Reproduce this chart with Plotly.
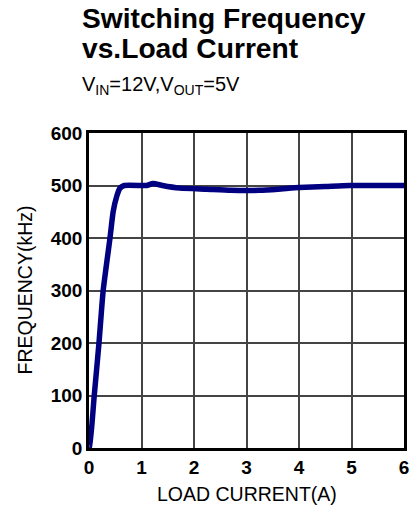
import plotly.graph_objects as go

load_current = [0.0, 0.01, 0.10, 0.19, 0.27, 0.40, 0.46, 0.53, 0.59, 0.67, 1.00, 1.10, 1.22, 1.40, 1.73, 2.24, 2.70, 3.25, 3.60, 4.00, 4.50, 4.96, 6.00]
frequency = [0, 0, 100, 200, 300, 400, 450, 480, 495, 500, 500, 500, 504, 500, 495, 493, 491, 491, 493, 496, 498, 500, 500]

x_ticks = [0, 1, 2, 3, 4, 5, 6]
y_ticks = [0, 100, 200, 300, 400, 500, 600]

title_line1 = "Switching Frequency"
title_line2 = "vs.Load Current"
subtitle = "V<sub>IN</sub>=12V,V<sub>OUT</sub>=5V"
x_title = "LOAD CURRENT(A)"
y_title = "FREQUENCY(kHz)"

font = "Liberation Sans, Arial, sans-serif"

fig = go.Figure()
fig.add_trace(go.Scatter(
    x=load_current, y=frequency, mode="lines",
    line=dict(color="#000080", width=5.5, shape="spline", smoothing=0.5),
    showlegend=False, hoverinfo="skip",
))

fig.update_layout(
    width=417, height=506,
    margin=dict(l=89, r=8, t=133, b=58),
    paper_bgcolor="white", plot_bgcolor="white",
    font=dict(family=font, color="black"),
    xaxis=dict(
        range=[0, 6], tickvals=x_ticks, ticktext=["<b>%d</b>" % v for v in x_ticks],
        showgrid=True, gridcolor="#444444", gridwidth=1.5,
        showline=True, linecolor="black", linewidth=2.5, mirror=True,
        zeroline=False, ticks="",
        tickfont=dict(size=19, family=font),
        fixedrange=True,
    ),
    yaxis=dict(
        range=[0, 600], tickvals=y_ticks, ticktext=["<b>%d</b>" % v for v in y_ticks],
        showgrid=True, gridcolor="#444444", gridwidth=1.5,
        showline=True, linecolor="black", linewidth=2.5, mirror=True,
        zeroline=False, ticks="",
        tickfont=dict(size=19, family=font),
        fixedrange=True,
    ),
    annotations=[
        dict(text="<b>" + title_line1 + "</b>", xref="paper", yref="paper",
             x=-0.0285, y=1.0, xanchor="left", yanchor="bottom",
             yshift=97, showarrow=False,
             font=dict(size=28.2, family=font, color="black")),
        dict(text="<b>" + title_line2 + "</b>", xref="paper", yref="paper",
             x=-0.0285, y=1.0, xanchor="left", yanchor="bottom",
             yshift=67, showarrow=False,
             font=dict(size=28.2, family=font, color="black")),
        dict(text=subtitle, xref="paper", yref="paper",
             x=-0.0285, y=1.0, xanchor="left", yanchor="bottom",
             yshift=33, showarrow=False,
             font=dict(size=20, family=font, color="black")),
        dict(text=x_title, xref="paper", yref="paper",
             x=0.5, y=0.0, xanchor="center", yanchor="middle",
             yshift=-46, showarrow=False,
             font=dict(size=19.5, family=font, color="black")),
        dict(text=y_title, xref="paper", yref="paper",
             x=0.0, y=0.5, xanchor="center", yanchor="middle",
             xshift=-65, textangle=-90, showarrow=False,
             font=dict(size=19.5, family=font, color="black")),
    ],
)

fig.write_html("out.html", config={"displayModeBar": False},
               post_script="document.body.style.margin='0';")
